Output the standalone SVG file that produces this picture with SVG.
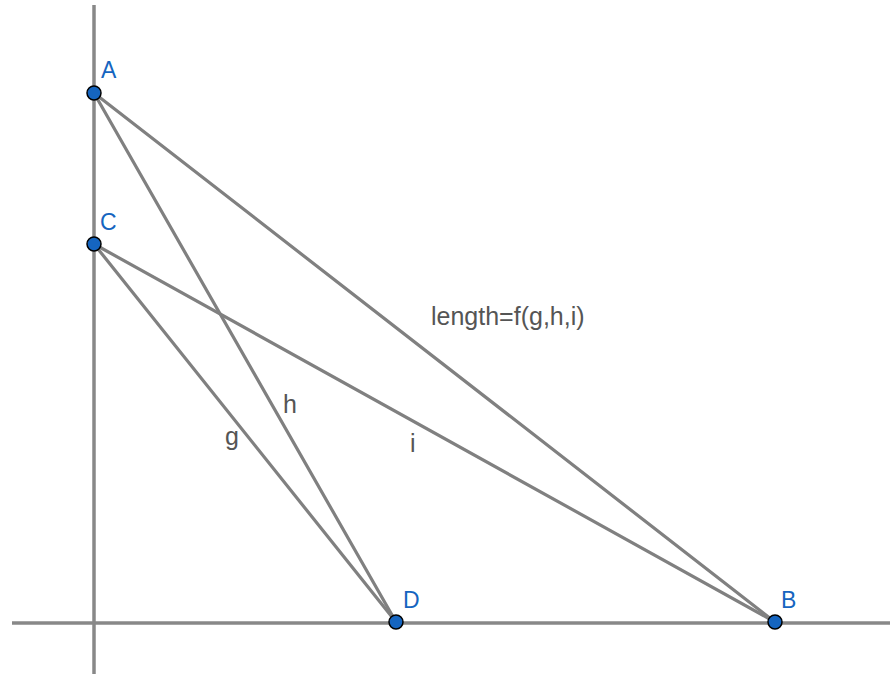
<svg xmlns="http://www.w3.org/2000/svg" width="890" height="675" viewBox="0 0 890 675">
<style>
.axis{stroke:#888888;stroke-width:3.5;fill:none}
.seg{stroke:#808080;stroke-width:3.2;fill:none;stroke-linecap:round}
.pt{fill:#1565c0;stroke:#000000;stroke-width:1.5}
.plabel{font-family:"Liberation Sans",Arial,sans-serif;font-size:23px;fill:#1565c0}
.slabel{font-family:"Liberation Sans",Arial,sans-serif;font-size:25px;fill:#555555}
</style>
<rect width="890" height="675" fill="#ffffff"/>
<g id="axes">
<line class="axis" x1="94" y1="5" x2="94" y2="674"/>
<line class="axis" x1="12" y1="623" x2="890" y2="623"/>
</g>
<g id="connectors">
<line class="seg" x1="94" y1="93" x2="775" y2="622"/>
<line class="seg" x1="94" y1="93" x2="396" y2="622"/>
<line class="seg" x1="94" y1="244" x2="396" y2="622"/>
<line class="seg" x1="94" y1="244" x2="775" y2="622"/>
</g>
<g id="segment-labels">
<text class="slabel" x="431" y="325">length=f(g,h,i)</text>
<text class="slabel" x="283" y="413">h</text>
<text class="slabel" x="225" y="445">g</text>
<text class="slabel" x="410" y="452">i</text>
</g>
<g id="A"><circle class="pt" cx="94" cy="93" r="7"/><text class="plabel" x="101" y="78">A</text></g>
<g id="C"><circle class="pt" cx="94" cy="244" r="7"/><text class="plabel" x="100" y="230">C</text></g>
<g id="D"><circle class="pt" cx="396" cy="622" r="7"/><text class="plabel" x="403" y="608">D</text></g>
<g id="B"><circle class="pt" cx="775" cy="622" r="7"/><text class="plabel" x="781" y="608">B</text></g>
</svg>
